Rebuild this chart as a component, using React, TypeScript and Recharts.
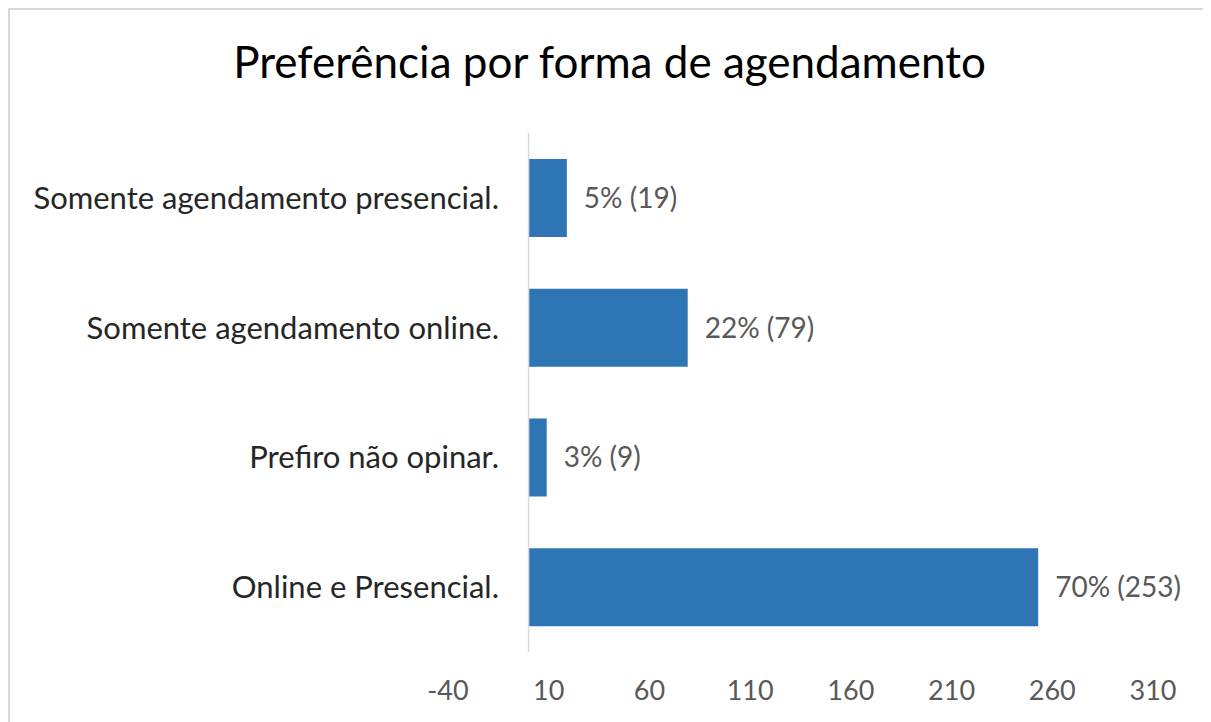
import { BarChart, Bar, XAxis, YAxis, ReferenceLine, LabelList } from 'recharts';

const categories = [
  'Somente agendamento presencial.',
  'Somente agendamento online.',
  'Prefiro não opinar.',
  'Online e Presencial.',
];
const counts = [19, 79, 9, 253];
const percents = [5, 22, 3, 70];
const xTicks = [-40, 10, 60, 110, 160, 210, 260, 310];

const data = categories.map((name, i) => ({
  name,
  value: counts[i],
  label: `${percents[i]}% (${counts[i]})`,
}));

const FONT = 'Lato, "Open Sans", sans-serif';

export default function App() {
  return (
    <div
      style={{
        position: 'relative',
        width: 1203,
        height: 722,
        border: '2px solid #d9d9d9',
        boxSizing: 'border-box',
        background: '#fff',
        fontFamily: FONT,
      }}
    >
      <style>{'body { overflow: hidden; }'}</style>
      <div
        style={{
          position: 'absolute',
          top: 25,
          left: 0,
          width: '100%',
          textAlign: 'center',
          fontSize: 44,
          color: '#000',
          lineHeight: '52px',
        }}
      >
        Preferência por forma de agendamento
      </div>
      <BarChart
        width={1199}
        height={718}
        data={data}
        layout="vertical"
        margin={{ top: 123, right: 56, bottom: 40, left: 8 }}
      >
        <XAxis
          type="number"
          domain={[-40, 310]}
          ticks={xTicks}
          axisLine={false}
          tickLine={false}
          tickMargin={23}
          height={36}
          tick={{ fontSize: 27, fill: '#595959', fontFamily: FONT }}
        />
        <YAxis
          type="category"
          dataKey="name"
          width={430}
          axisLine={false}
          tickLine={false}
          tickSize={0}
          tickMargin={-51}
          tick={{ fontSize: 31, fill: '#262626', fontFamily: FONT }}
        />
        <ReferenceLine x={0} stroke="#d9d9d9" strokeWidth={1.5} />
        <Bar dataKey="value" fill="#2e75b6" barSize={78} isAnimationActive={false}>
          <LabelList
            dataKey="label"
            position="right"
            offset={17}
            fill="#595959"
            fontSize={28}
            fontFamily={FONT}
          />
        </Bar>
      </BarChart>
    </div>
  );
}
